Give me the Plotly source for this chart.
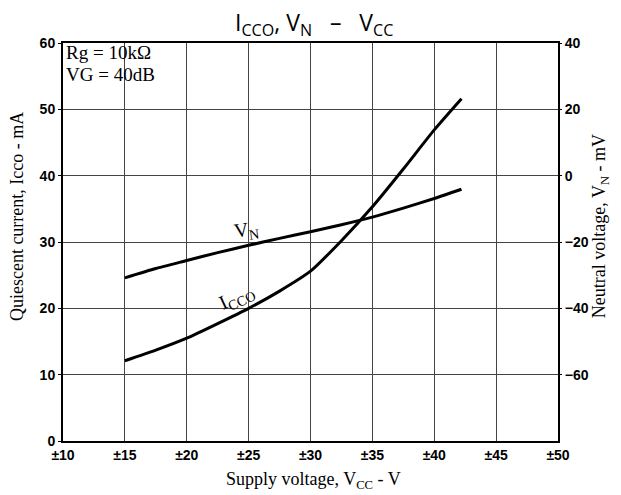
import plotly.graph_objects as go

# Data
vcc = [15, 17.5, 20, 22.5, 25, 27.5, 30, 32.5, 35, 37.5, 40, 42.2]
icco_mA = [12.1, 13.7, 15.5, 17.7, 20.0, 22.6, 25.6, 30.2, 35.3, 41.0, 46.9, 51.6]
vn_mV = [-30.8, -28.0, -25.6, -23.2, -21.0, -18.9, -16.9, -14.8, -12.5, -9.8, -6.9, -4.1]

x_ticks = [10, 15, 20, 25, 30, 35, 40, 45, 50]
x_ticktext = ["±10", "±15", "±20", "±25", "±30", "±35", "±40", "±45", "±50"]
y_left_ticks = [0, 10, 20, 30, 40, 50, 60]
y_right_ticks = [-60, -40, -20, 0, 20, 40]

fig = go.Figure()
fig.add_trace(go.Scatter(x=vcc, y=icco_mA, mode="lines", name="ICCO",
                         line=dict(color="black", width=3, shape="spline", smoothing=0.6),
                         yaxis="y"))
fig.add_trace(go.Scatter(x=vcc, y=vn_mV, mode="lines", name="VN",
                         line=dict(color="black", width=3, shape="spline", smoothing=0.6),
                         yaxis="y2"))

tickfont = dict(family="Liberation Sans", size=14, color="black", weight="bold")
serif = "Liberation Serif"

# page body has an 8px margin, so the figure is sized to fit the 621x495 window
fig.update_layout(
    width=613, height=487,
    margin=dict(l=55, r=63, t=35, b=54),
    paper_bgcolor="white", plot_bgcolor="white",
    showlegend=False,
    xaxis=dict(range=[10, 50], tickvals=x_ticks, ticktext=x_ticktext,
               showgrid=True, gridcolor="#444444", gridwidth=1,
               showline=True, linecolor="black", linewidth=2, mirror=True,
               ticks="", tickfont=tickfont, zeroline=False, automargin=False),
    yaxis=dict(range=[0, 60], tickvals=y_left_ticks,
               showgrid=True, gridcolor="#444444", gridwidth=1,
               showline=True, linecolor="black", linewidth=2, mirror=True,
               ticks="outside", ticklen=3, tickcolor="black",
               tickfont=tickfont, zeroline=False, automargin=False),
    yaxis2=dict(range=[-80, 40], tickvals=y_right_ticks, overlaying="y", side="right",
                showgrid=False, showline=False, zeroline=False,
                ticks="outside", ticklen=3, tickcolor="black",
                tickfont=tickfont, automargin=False),
)

# Title and axis titles
fig.add_annotation(x=0.507, y=1.05, xref="paper", yref="paper", showarrow=False,
                   xanchor="center", yanchor="middle",
                   text="I<sub>CCO</sub>, V<sub>N</sub>   –   V<sub>CC</sub>",
                   font=dict(family="Open Sans", size=23, color="black"))
fig.add_annotation(x=0.507, y=-0.098, xref="paper", yref="paper", showarrow=False,
                   xanchor="center", yanchor="middle",
                   text="Supply voltage, V<sub>CC</sub> - V",
                   font=dict(family=serif, size=18, color="black"))
fig.add_annotation(x=-0.093, y=0.565, xref="paper", yref="paper", showarrow=False,
                   xanchor="center", yanchor="middle",
                   text="Quiescent current, Icco - mA", textangle=-90,
                   font=dict(family=serif, size=18, color="black"))
fig.add_annotation(x=1.085, y=0.54, xref="paper", yref="paper", showarrow=False,
                   xanchor="center", yanchor="middle",
                   text="Neutral voltage, V<sub>N</sub> - mV", textangle=-90,
                   font=dict(family=serif, size=18, color="black"))

# In-plot labels
fig.add_annotation(x=10.15, y=58.5, xref="x", yref="y", xanchor="left", yanchor="middle",
                   text="Rg = 10kΩ", showarrow=False, borderpad=0,
                   font=dict(family=serif, size=19, color="black"))
fig.add_annotation(x=10.15, y=55.25, xref="x", yref="y", xanchor="left", yanchor="middle",
                   text="VG = 40dB", showarrow=False, borderpad=0,
                   font=dict(family=serif, size=19, color="black"))
fig.add_annotation(x=24.06, y=21.6, xref="x", yref="y",
                   text="I<sub>CCO</sub>", showarrow=False, textangle=-25,
                   font=dict(family=serif, size=20, color="black"))
fig.add_annotation(x=24.8, y=31.8, xref="x", yref="y",
                   text="V<sub>N</sub>", showarrow=False, textangle=-8,
                   font=dict(family=serif, size=20, color="black"))

fig.write_html("out.html")
